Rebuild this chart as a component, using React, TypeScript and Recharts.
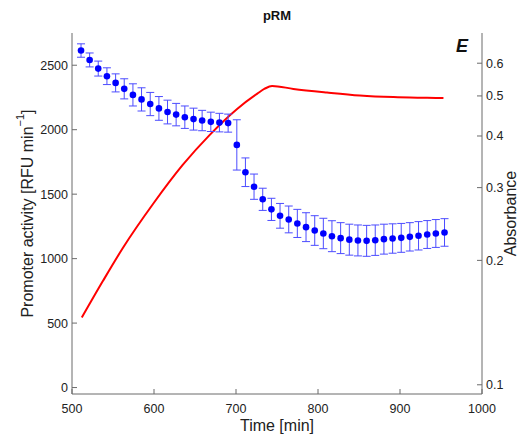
import React from "react";
import {
  ComposedChart,
  Scatter,
  Line,
  ErrorBar,
  XAxis,
  YAxis,
  Label,
} from "recharts";

// blue points: promoter activity with error bars
const times = [
  511, 521.5, 532, 542.6, 553.2, 563.7, 574.3, 584.8, 595.4, 606, 616.5, 627,
  637.6, 648.2, 658.7, 669.3, 679.8, 690.4, 701, 711.5, 722, 732.6, 743.2,
  753.7, 764.3, 774.8, 785.4, 796, 806.5, 817, 827.6, 838.2, 848.7, 859.3,
  869.8, 880.4, 891, 901.5, 912, 922.6, 933.2, 943.7, 954.3,
];
const activity = [
  2614, 2541, 2474, 2415, 2363, 2317, 2270, 2235, 2199, 2165, 2137, 2117, 2097,
  2082, 2071, 2061, 2055, 2051, 1882, 1670, 1558, 1460, 1382, 1332, 1304, 1273,
  1244, 1218, 1195, 1174, 1159, 1147, 1141, 1138, 1143, 1151, 1156, 1161, 1169,
  1177, 1187, 1195, 1203,
];
const activityErr = [
  52, 54, 58, 65, 70, 78, 86, 90, 90, 92, 92, 87, 87, 85, 79, 75, 72, 70, 195,
  111, 98, 86, 86, 96, 104, 109, 112, 115, 118, 120, 120, 120, 120, 120, 118,
  116, 114, 112, 110, 110, 108, 108, 107,
];

// red line: absorbance (log axis)
const absTimes = [
  512, 538, 562, 599, 635, 668, 701, 726, 735, 744, 770, 811, 851, 892, 933,
  953,
];
const absorbance = [
  0.1455, 0.1787, 0.2143, 0.2742, 0.3404, 0.4026, 0.4645, 0.5064, 0.5205,
  0.5286, 0.52, 0.5097, 0.5013, 0.4967, 0.4948, 0.494,
];

const xTicks = [500, 600, 700, 800, 900, 1000];
const leftTicks = [0, 500, 1000, 1500, 2000, 2500];
const rightTicks = [0.1, 0.2, 0.3, 0.4, 0.5, 0.6];

const pointData = times.map((t, i) => ({
  t,
  activity: activity[i],
  err: activityErr[i],
}));
const absData = absTimes.map((t, i) => ({ t, abs: absorbance[i] }));

const FONT = "'Liberation Sans', Arial, sans-serif";
const tickStyle = { fontSize: 12.5, fill: "#222", fontFamily: FONT };
const axisColor = "#6b6b6b";

const Dot = (props: any) => (
  <circle cx={props.cx} cy={props.cy} r={3.3} fill="#0000ff" />
);

const LeftLabel = (props: any) => {
  const vb = props.viewBox;
  const cy = vb.y + vb.height / 2;
  const cx = 27;
  return (
    <text
      x={cx}
      y={cy}
      transform={`rotate(-90, ${cx}, ${cy})`}
      textAnchor="middle"
      dominantBaseline="central"
      fontSize={16}
      fontFamily={FONT}
      fill="#222"
    >
      Promoter activity [RFU min
      <tspan dy={-7} fontSize={11}>
        −1
      </tspan>
      <tspan dy={7}>]</tspan>
    </text>
  );
};

const RightLabel = (props: any) => {
  const vb = props.viewBox;
  const cy = vb.y + vb.height / 2;
  const cx = vb.x + 28;
  return (
    <text
      x={cx}
      y={cy}
      transform={`rotate(-90, ${cx}, ${cy})`}
      textAnchor="middle"
      dominantBaseline="central"
      fontSize={16}
      fontFamily={FONT}
      fill="#222"
    >
      Absorbance
    </text>
  );
};

const App: React.FC = () => {
  return (
    <div
      style={{
        position: "absolute",
        left: 0,
        top: 0,
        width: 522,
        height: 435,
        background: "#fff",
        fontFamily: FONT,
      }}
    >
      <div
        style={{
          position: "absolute",
          left: 0,
          width: 554,
          top: 8,
          textAlign: "center",
          fontWeight: "bold",
          fontSize: 13,
          color: "#111",
        }}
      >
        pRM
      </div>
      <div
        style={{
          position: "absolute",
          left: 456,
          top: 36,
          fontWeight: "bold",
          fontStyle: "italic",
          fontSize: 18,
          color: "#111",
        }}
      >
        E
      </div>
      <ComposedChart
        width={522}
        height={435}
        margin={{ top: 33, right: 0, bottom: 0, left: 0 }}
      >
        <XAxis
          dataKey="t"
          type="number"
          domain={[500, 1000]}
          ticks={xTicks}
          height={41}
          stroke={axisColor}
          tickSize={-5}
          tickMargin={15}
          tick={tickStyle}
          interval={0}
        >
          <Label
            value="Time [min]"
            position="insideBottom"
            offset={4}
            style={{ fontSize: 16, fill: "#222", fontFamily: FONT }}
          />
        </XAxis>
        <YAxis
          yAxisId="left"
          type="number"
          domain={[-50, 2750]}
          ticks={leftTicks}
          width={72}
          stroke={axisColor}
          tickSize={-5}
          tickMargin={9}
          tick={tickStyle}
          interval={0}
          allowDataOverflow
          label={{ content: LeftLabel }}
        />
        <YAxis
          yAxisId="right"
          orientation="right"
          type="number"
          scale="log"
          domain={[0.095, 0.71]}
          ticks={rightTicks}
          width={40}
          stroke={axisColor}
          tickSize={-5}
          tickMargin={9}
          tick={tickStyle}
          interval={0}
          allowDataOverflow
          tickFormatter={(v: number) => String(v)}
          label={{ content: RightLabel }}
        />
        <Line
          yAxisId="right"
          data={absData}
          dataKey="abs"
          type="monotone"
          stroke="#ff0000"
          strokeWidth={2}
          dot={false}
          activeDot={false}
          isAnimationActive={false}
        />
        <Scatter
          yAxisId="left"
          data={pointData}
          dataKey="activity"
          shape={Dot}
          isAnimationActive={false}
        >
          <ErrorBar
            dataKey="err"
            direction="y"
            width={4}
            stroke="#4c4cff"
            strokeWidth={1}
            isAnimationActive={false}
          />
        </Scatter>
      </ComposedChart>
    </div>
  );
};

export default App;
